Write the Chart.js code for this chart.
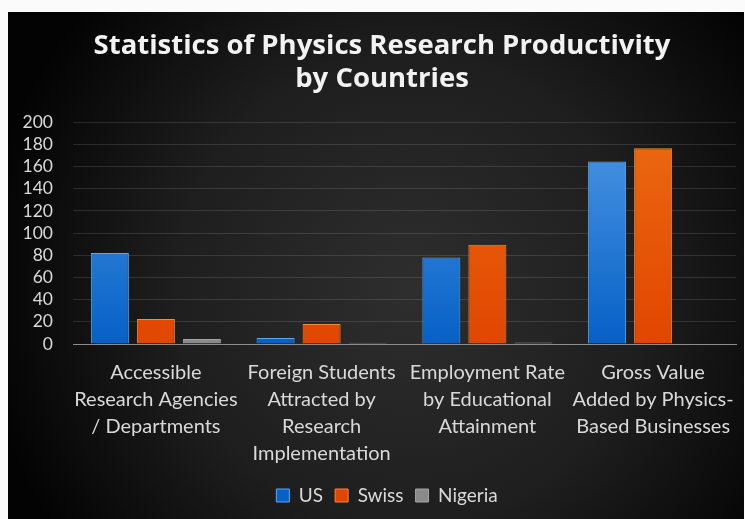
<!DOCTYPE html>
<html>
<head>
<meta charset="utf-8">
<script src="https://cdn.jsdelivr.net/npm/chart.js@4"></script>
<style>
  html, body { margin: 0; padding: 0; background: #fff; }
  #wrap { width: 745px; height: 519px; }
</style>
</head>
<body>
<div id="wrap"><canvas id="physicsChart" width="745" height="519"></canvas></div>
<script>
const categories = [
  ['Accessible', 'Research Agencies', '/ Departments'],
  ['Foreign Students', 'Attracted by', 'Research', 'Implementation'],
  ['Employment Rate', 'by Educational', 'Attainment'],
  ['Gross Value', 'Added by Physics-', 'Based Businesses']
];
const usValues = [82, 5.5, 78, 164.5];
const swissValues = [22.5, 18, 89.5, 176.5];
const nigeriaValues = [4.5, 1.2, 1.4, 0];
const yTicks = [0, 20, 40, 60, 80, 100, 120, 140, 160, 180, 200];

// dark panel with a soft spotlight behind the plot
const panelBg = {
  id: 'panelBg',
  beforeDraw(chart) {
    const ctx = chart.ctx;
    ctx.save();
    ctx.fillStyle = '#fbfbfb';
    ctx.fillRect(0, 0, chart.width, chart.height);
    const g = ctx.createRadialGradient(410, 290, 0, 410, 290, 430);
    g.addColorStop(0, '#2e2e2e');
    g.addColorStop(0.55, '#1e1e1e');
    g.addColorStop(1, '#030303');
    ctx.fillStyle = g;
    ctx.fillRect(8, 12, chart.width - 9, chart.height - 12);
    ctx.restore();
  }
};

// nudge title and legend right so they sit centred on the panel, not the canvas
const centreBlocks = {
  id: 'centreBlocks',
  afterLayout(chart) {
    if (chart.titleBlock) chart.titleBlock.left += 20;
    if (chart.legend) chart.legend.left += 30;
  }
};

function vertical(top, bottom) {
  return function (context) {
    const area = context.chart.chartArea;
    if (!area) return bottom;
    const g = context.chart.ctx.createLinearGradient(0, area.top, 0, area.bottom);
    g.addColorStop(0, top);
    g.addColorStop(1, bottom);
    return g;
  };
}

new Chart(document.getElementById('physicsChart'), {
  type: 'bar',
  data: {
    labels: categories,
    datasets: [
      {
        label: 'US',
        data: usValues,
        backgroundColor: vertical('#4d98e4', '#0660c6'),
        borderColor: '#5aa8ee',
        borderWidth: 1
      },
      {
        label: 'Swiss',
        data: swissValues,
        backgroundColor: vertical('#ec6a12', '#e04600'),
        borderColor: '#f48a3a',
        borderWidth: 1
      },
      {
        label: 'Nigeria',
        data: nigeriaValues,
        backgroundColor: '#8a8a8a',
        borderColor: '#a4a4a4',
        borderWidth: 1
      }
    ]
  },
  options: {
    responsive: false,
    animation: false,
    categoryPercentage: 0.833,
    barPercentage: 0.826,
    layout: { padding: { left: 8, right: 9, top: 12, bottom: 4 } },
    plugins: {
      title: {
        display: true,
        text: ['Statistics of Physics Research Productivity', 'by Countries'],
        color: '#f2f2f2',
        font: { family: 'Open Sans', size: 27.5, weight: 'bold', lineHeight: 1.22 },
        padding: { top: 17, bottom: 26 }
      },
      legend: {
        position: 'bottom',
        labels: {
          color: '#d9d9d9',
          font: { family: 'Lato', size: 19 },
          boxWidth: 13,
          boxHeight: 13,
          padding: 12
        }
      },
      tooltip: { enabled: false }
    },
    scales: {
      x: {
        afterFit(axis) { axis.height = 130; },
        grid: { display: false },
        border: { color: '#8c8c8c', width: 1 },
        ticks: {
          color: '#d9d9d9',
          font: { family: 'Lato', size: 20, lineHeight: 1.35 },
          maxRotation: 0,
          autoSkip: false,
          padding: 7
        }
      },
      y: {
        min: 0,
        max: 200,
        afterBuildTicks(axis) {
          axis.ticks = yTicks.map(v => ({ value: v }));
        },
        afterFit(axis) { axis.width = 65; },
        grid: { color: 'rgba(255,255,255,0.12)', drawTicks: false },
        border: { display: false },
        ticks: {
          color: '#d9d9d9',
          font: { family: 'Lato', size: 17.5 },
          autoSkip: false,
          padding: 20
        }
      }
    }
  },
  plugins: [panelBg, centreBlocks]
});
</script>
</body>
</html>
